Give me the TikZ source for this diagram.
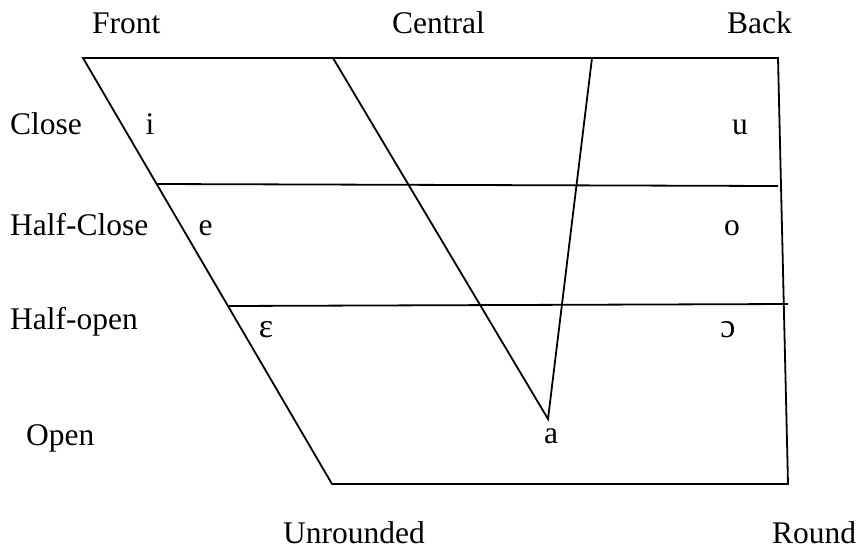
\documentclass[tikz,border=0pt]{standalone}
\usepackage{fontspec}
\setmainfont{Liberation Serif}
\begin{document}
\begin{tikzpicture}[x=1pt,y=-1pt,
  chart/.style={line width=1.8pt,line join=miter},
  lbl/.style={inner sep=0pt,anchor=base west,font=\fontsize{31.5}{37}\selectfont},
  vow/.style={inner sep=0pt,anchor=base,font=\fontsize{31.5}{37}\selectfont}]
\useasboundingbox (0,0) rectangle (859,550);
% corners
\coordinate (TL) at (83,58);
\coordinate (TR) at (778,58);
\coordinate (BL) at (332,484);
\coordinate (BR) at (788,484);
\coordinate (HCl) at (157,184);
\coordinate (HCr) at (778,186);
\coordinate (HOl) at (228,306);
\coordinate (HOr) at (788,304);
\coordinate (Ctop) at (333,58);
\coordinate (Btop) at (592,58);
\coordinate (apex) at (548,419);
% frame
\draw[chart] (TL) -- (TR) -- (BR) -- (BL) -- cycle;
\draw[chart] (HCl) -- (HCr);
\draw[chart] (HOl) -- (HOr);
\draw[chart] (Ctop) -- (apex) -- (Btop);
% column labels
\node[lbl] (front) at (92,33) {Front};
\node[lbl] (central) at (392,33) {Central};
\node[lbl] (back) at (727,33) {Back};
% row labels
\node[lbl] (close) at (10,134) {Close};
\node[lbl] (hclose) at (10,235) {Half-Close};
\node[lbl] (hopen) at (10,329) {Half-open};
\node[lbl] (open) at (26,445) {Open};
% bottom labels
\node[lbl] (unr) at (283,543) {Unrounded};
\node[lbl] (rnd) at (772,543) {Round};
% vowels
\node[vow] (vi) at (150,134) {i};
\node[vow] (vu) at (740,134) {u};
\node[vow] (ve) at (205.5,235) {e};
\node[vow] (vo) at (732,235) {o};
\node[vow,font=\fontsize{34}{40}\selectfont] (veps) at (266,337) {ɛ};
\node[vow,font=\fontsize{34}{40}\selectfont] (voo) at (728,337) {ɔ};
\node[vow] (va) at (551,443) {a};
\end{tikzpicture}
\end{document}
